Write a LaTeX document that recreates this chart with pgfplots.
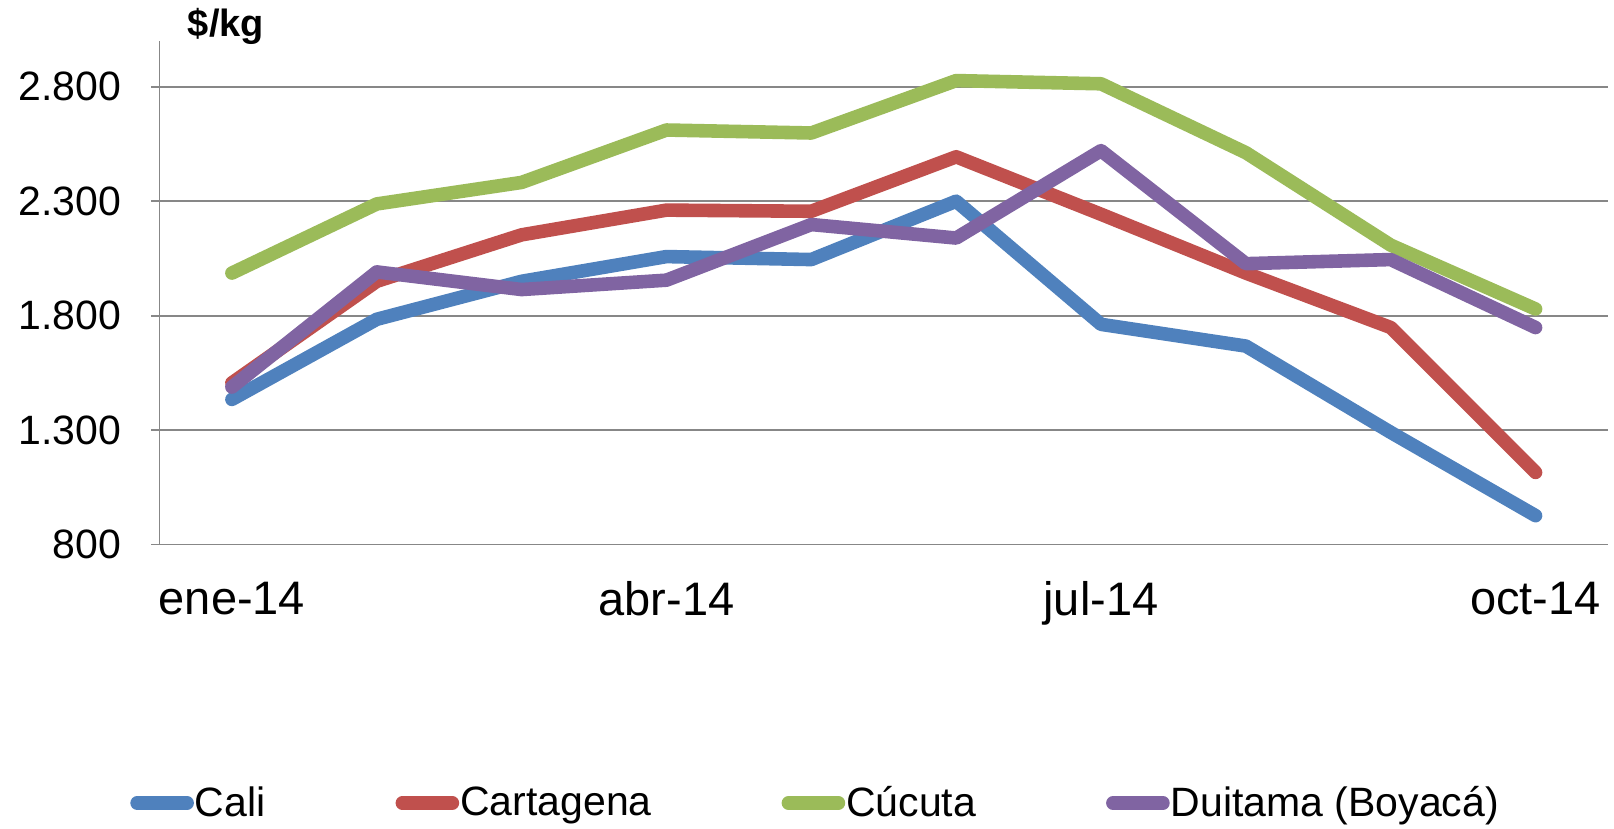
\documentclass[border=0pt]{standalone}
\usepackage{fontspec}
\setmainfont{Liberation Sans}
\usepackage{pgfplots}
\pgfplotsset{compat=1.18}
\definecolor{cali}{HTML}{4F81BD}
\definecolor{carta}{HTML}{C0504D}
\definecolor{cucuta}{HTML}{9BBB59}
\definecolor{duitama}{HTML}{8064A2}
\definecolor{gridgray}{HTML}{878787}
\newcommand{\chartfont}{\fontsize{20.5pt}{25pt}\selectfont}
\newcommand{\xfont}{\fontsize{23.5pt}{28pt}\selectfont}
\begin{document}
\begin{tikzpicture}
\begin{axis}[
  scale only axis,
  width=724.25pt, height=251.75pt,
  xmin=-0.5, xmax=9.5,
  ymin=800, ymax=3000,
  xtick={0,3,6,9},
  xticklabels={ene-14,abr-14,jul-14,oct-14},
  ytick={800,1300,1800,2300,2800},
  axis x line*=bottom, axis y line*=left,
  axis line style={gridgray, line width=0.9pt, -},
  ymajorgrids,
  grid style={gridgray, line width=0.9pt},
  x tick style={draw=none},
  y tick style={gridgray, line width=0.9pt},
  tick align=outside, major tick length=4pt,
  tick label style={inner sep=0pt},
  xticklabel style={font=\xfont, anchor=north, yshift=-14.5pt},
  yticklabel style={font=\chartfont, anchor=east, xshift=-15pt},
  /pgf/number format/.cd, 1000 sep={.}, assume math mode=true,
  /pgfplots/.cd,
  scaled y ticks=false,
  every axis plot/.append style={line width=6.8pt, line cap=round, line join=round, mark=none},
  legend columns=4,
  legend style={at={(-0.0204,-0.5134)}, anchor=west, draw=none, font=\chartfont,
    inner sep=0pt,
    nodes={inner xsep=0.5pt, inner ysep=2pt},
    /tikz/every even column/.append style={column sep=64.5pt}},
  legend image code/.code={\draw[#1] (0pt,0pt) -- (25pt,0pt);},
  clip=false,
]
\addplot[cali] coordinates {
  (0,1434) (1,1784) (2,1950) (3,2058) (4,2045) (5,2300) (6,1762) (7,1667) (8,1290) (9,926)
};
\addlegendentry{Cali}
\addplot[carta] coordinates {
  (0,1506) (1,1950) (2,2153) (3,2261) (4,2256) (5,2494) (6,2243) (7,1986) (8,1748) (9,1115)
};
\addlegendentry{Cartagena}
\addplot[cucuta] coordinates {
  (0,1986) (1,2288) (2,2382) (3,2611) (4,2598) (5,2827) (6,2813) (7,2512) (8,2108) (9,1829)
};
\addlegendentry{Cúcuta}
\addplot[duitama] coordinates {
  (0,1488) (1,1991) (2,1914) (3,1955) (4,2198) (5,2139) (6,2521) (7,2027) (8,2045) (9,1748)
};
\addlegendentry{Duitama (Boyacá)}
\node[anchor=base west, font=\fontsize{19pt}{23pt}\selectfont\bfseries, inner sep=0pt]
  at ([xshift=14pt, yshift=2pt]rel axis cs:0,1) {\$/kg};
\end{axis}
\pgfresetboundingbox
\useasboundingbox ([xshift=-79.75pt, yshift=-142.25pt]current axis.south west) rectangle ++(807pt,414.5pt);
\end{tikzpicture}
\end{document}
